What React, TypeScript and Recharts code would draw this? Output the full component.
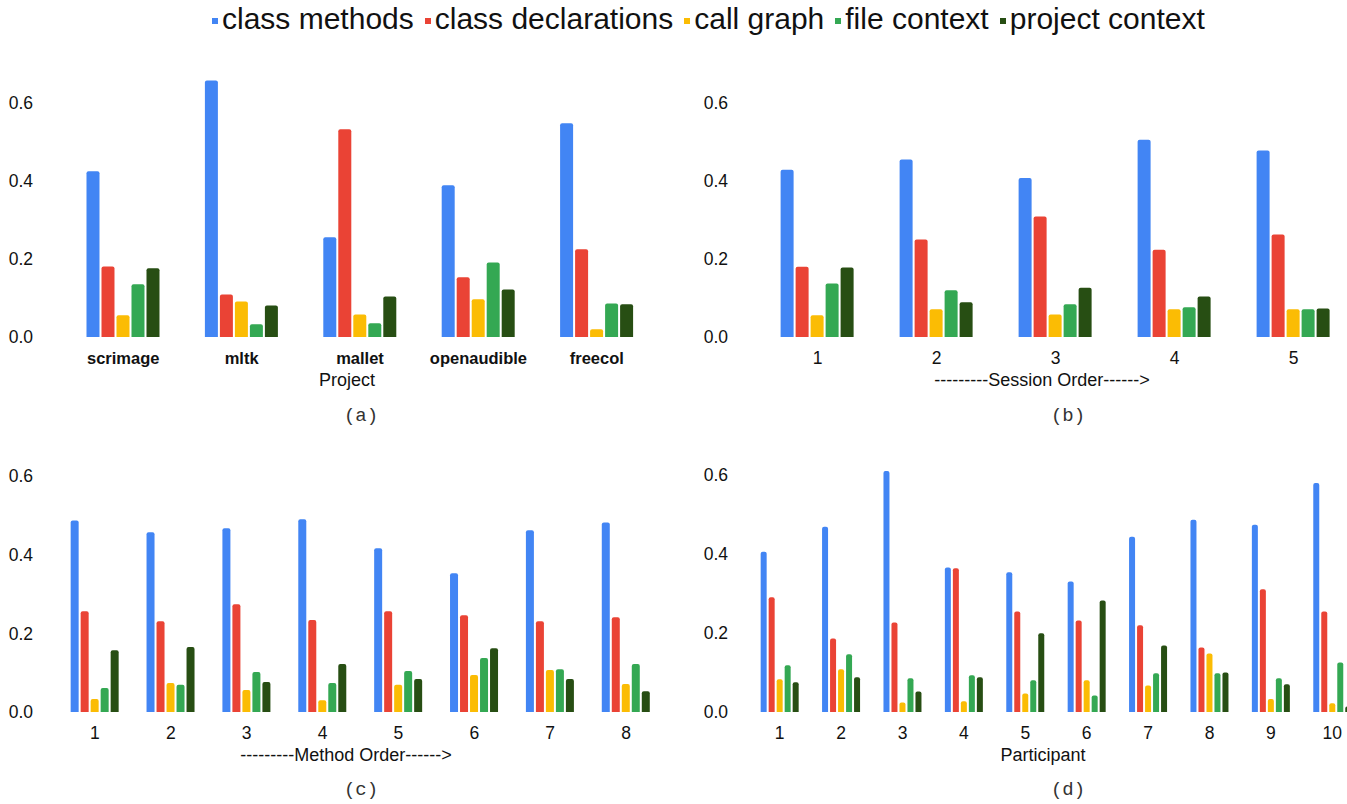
import React from 'react';
import { BarChart, Bar, XAxis, YAxis } from 'recharts';

const SERIES = [
  { key: 'classMethods', name: 'class methods', color: '#4285f4' },
  { key: 'classDecl', name: 'class declarations', color: '#ea4335' },
  { key: 'callGraph', name: 'call graph', color: '#fbbc04' },
  { key: 'fileCtx', name: 'file context', color: '#34a853' },
  { key: 'projectCtx', name: 'project context', color: '#274e13' },
];

const yTicks = [0, 0.2, 0.4, 0.6];

// (a) by project
const projectNames = ['scrimage', 'mltk', 'mallet', 'openaudible', 'freecol'];
const projectClassMethods = [0.425, 0.658, 0.256, 0.389, 0.548];
const projectClassDecl = [0.181, 0.109, 0.533, 0.153, 0.225];
const projectCallGraph = [0.056, 0.091, 0.058, 0.097, 0.02];
const projectFileCtx = [0.135, 0.033, 0.035, 0.191, 0.086];
const projectProjectCtx = [0.176, 0.081, 0.104, 0.122, 0.084];

// (b) by session order
const sessionNames = ['1', '2', '3', '4', '5'];
const sessionClassMethods = [0.429, 0.455, 0.408, 0.506, 0.478];
const sessionClassDecl = [0.18, 0.25, 0.309, 0.224, 0.263];
const sessionCallGraph = [0.056, 0.071, 0.058, 0.071, 0.071];
const sessionFileCtx = [0.137, 0.12, 0.084, 0.076, 0.071];
const sessionProjectCtx = [0.178, 0.089, 0.126, 0.104, 0.073];

// (c) by method order
const methodNames = ['1', '2', '3', '4', '5', '6', '7', '8'];
const methodClassMethods = [0.487, 0.457, 0.467, 0.49, 0.416, 0.353, 0.462, 0.482];
const methodClassDecl = [0.256, 0.231, 0.274, 0.234, 0.256, 0.246, 0.231, 0.241];
const methodCallGraph = [0.033, 0.074, 0.056, 0.03, 0.069, 0.094, 0.107, 0.071];
const methodFileCtx = [0.061, 0.069, 0.102, 0.074, 0.104, 0.137, 0.109, 0.122];
const methodProjectCtx = [0.157, 0.165, 0.076, 0.122, 0.084, 0.162, 0.084, 0.053];

// (d) by participant
const participantNames = ['1', '2', '3', '4', '5', '6', '7', '8', '9', '10'];
const participantClassMethods = [0.405, 0.468, 0.609, 0.365, 0.353, 0.33, 0.443, 0.486, 0.473, 0.579];
const participantClassDecl = [0.29, 0.186, 0.226, 0.363, 0.254, 0.231, 0.219, 0.163, 0.31, 0.254];
const participantCallGraph = [0.083, 0.108, 0.024, 0.027, 0.047, 0.08, 0.067, 0.148, 0.033, 0.022];
const participantFileCtx = [0.118, 0.146, 0.085, 0.093, 0.08, 0.042, 0.098, 0.098, 0.085, 0.125];
const participantProjectCtx = [0.075, 0.088, 0.052, 0.088, 0.199, 0.282, 0.168, 0.1, 0.07, 0.014];

const buildRows = (names: string[], cols: number[][]) =>
  names.map((name, i) => {
    const row: any = { name };
    SERIES.forEach((s, j) => {
      row[s.key] = cols[j][i];
    });
    return row;
  });

const projectData = buildRows(projectNames, [projectClassMethods, projectClassDecl, projectCallGraph, projectFileCtx, projectProjectCtx]);
const sessionData = buildRows(sessionNames, [sessionClassMethods, sessionClassDecl, sessionCallGraph, sessionFileCtx, sessionProjectCtx]);
const methodData = buildRows(methodNames, [methodClassMethods, methodClassDecl, methodCallGraph, methodFileCtx, methodProjectCtx]);
const participantData = buildRows(participantNames, [participantClassMethods, participantClassDecl, participantCallGraph, participantFileCtx, participantProjectCtx]);

const FONT = 'Arial, "Liberation Sans", sans-serif';
const TEXT = '#111';

interface PanelProps {
  data: any[];
  left: number;
  top: number;
  width: number;
  height: number;
  margin: { top: number; right: number; bottom: number; left: number };
  yWidth: number;
  yTickMargin: number;
  domainMax: number;
  barGap: number;
  catGap: string;
  boldTicks?: boolean;
}

const Panel: React.FC<PanelProps> = (p) => (
  <div style={{ position: 'absolute', left: p.left, top: p.top }}>
    <BarChart
      width={p.width}
      height={p.height}
      data={p.data}
      margin={p.margin}
      barGap={p.barGap}
      barCategoryGap={p.catGap}
    >
      <XAxis
        dataKey="name"
        axisLine={false}
        tickLine={false}
        tickSize={0}
        tickMargin={15}
        height={30}
        interval={0}
        tick={{ fill: TEXT, fontSize: p.boldTicks ? 16.5 : 17.5, fontWeight: p.boldTicks ? 'bold' : 'normal', fontFamily: FONT }}
      />
      <YAxis
        domain={[0, p.domainMax]}
        ticks={yTicks}
        tickFormatter={(v: number) => v.toFixed(1)}
        axisLine={false}
        tickLine={false}
        tickSize={0}
        tickMargin={p.yTickMargin}
        width={p.yWidth}
        tick={{ fill: TEXT, fontSize: 17.5, fontFamily: FONT }}
      />
      {SERIES.map((s) => (
        <Bar key={s.key} dataKey={s.key} fill={s.color} radius={[2, 2, 0, 0]} isAnimationActive={false} />
      ))}
    </BarChart>
  </div>
);

const Caption: React.FC<{ x: number; y: number; text: string; mono?: boolean; size: number }> = ({ x, y, text, mono, size }) => (
  <div
    style={{
      position: 'absolute',
      left: x,
      top: y,
      transform: 'translate(-50%, -50%)',
      whiteSpace: 'nowrap',
      fontSize: size,
      lineHeight: 1,
      color: mono ? '#333' : TEXT,
      fontFamily: mono ? '"Courier New", "Liberation Mono", monospace' : FONT,
    }}
  >
    {text}
  </div>
);

export default function App() {
  return (
    <div
      style={{
        position: 'absolute',
        left: 0,
        top: 0,
        width: 1347,
        height: 804,
        overflow: 'hidden',
        background: '#fff',
        fontFamily: FONT,
      }}
    >
      {/* shared legend */}
      <div style={{ position: 'absolute', left: 212, top: 2, display: 'flex', alignItems: 'center', height: 34 }}>
        {SERIES.map((s) => (
          <div key={s.key} style={{ display: 'flex', alignItems: 'center', marginRight: 11 }}>
            <span style={{ width: 6, height: 6, background: s.color, marginRight: 4, marginTop: 4 }} />
            <span style={{ fontSize: 30, color: TEXT, whiteSpace: 'nowrap' }}>{s.name}</span>
          </div>
        ))}
      </div>

      <Panel
        data={projectData}
        left={0}
        top={40}
        width={680}
        height={360}
        margin={{ top: 24, right: 24, bottom: 33, left: 0 }}
        yWidth={64}
        yTickMargin={31}
        domainMax={0.7}
        barGap={2}
        catGap="19%"
        boldTicks
      />
      <Panel
        data={sessionData}
        left={680}
        top={40}
        width={680}
        height={360}
        margin={{ top: 24, right: 7, bottom: 33, left: 0 }}
        yWidth={78}
        yTickMargin={30}
        domainMax={0.7}
        barGap={2}
        catGap="19%"
      />
      <Panel
        data={methodData}
        left={0}
        top={440}
        width={680}
        height={360}
        margin={{ top: 36, right: 16, bottom: 58, left: 0 }}
        yWidth={57}
        yTickMargin={24}
        domainMax={0.6}
        barGap={2}
        catGap="18%"
      />
      <Panel
        data={participantData}
        left={680}
        top={420}
        width={690}
        height={380}
        margin={{ top: 15, right: 7, bottom: 58, left: 0 }}
        yWidth={69}
        yTickMargin={21}
        domainMax={0.7}
        barGap={2}
        catGap="19%"
      />

      <Caption x={347} y={380} text="Project" size={18} />
      <Caption x={1042} y={380} text="---------Session Order------>" size={18} />
      <Caption x={346} y={755} text="---------Method Order------>" size={18} />
      <Caption x={1043} y={755} text="Participant" size={18} />

      <Caption x={361} y={416} text="(a)" mono size={19} />
      <Caption x={1068} y={416} text="(b)" mono size={19} />
      <Caption x={361} y={790} text="(c)" mono size={19} />
      <Caption x={1068} y={790} text="(d)" mono size={19} />
    </div>
  );
}
